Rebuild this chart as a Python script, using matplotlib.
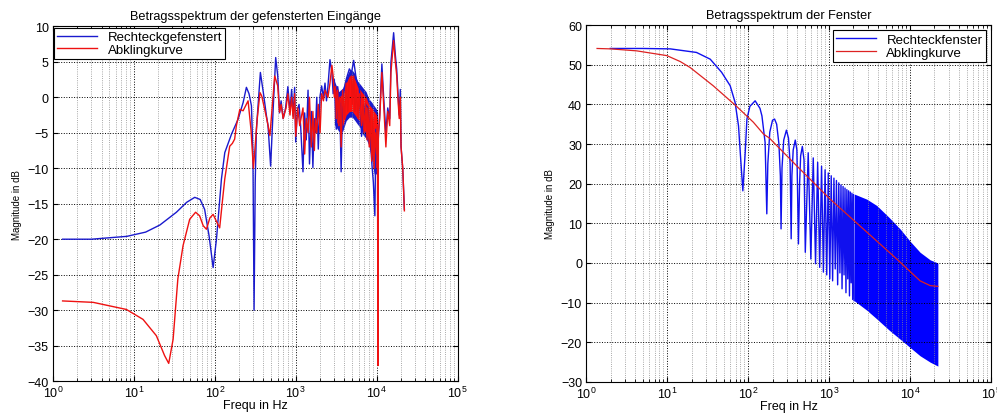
import matplotlib
matplotlib.use("Agg")
import matplotlib.pyplot as plt
from matplotlib.ticker import LogLocator, NullFormatter

plt.rcParams['font.family'] = ['Liberation Sans', 'DejaVu Sans']

# left panel: windowed input spectra
rect_f = [1.32, 3, 8.2, 14, 21, 33.6, 45, 56.6, 66, 75,
          85, 95.5, 105, 121, 133, 161, 194, 224, 246, 265,
          284, 296, 306, 316, 327, 366, 400, 435, 455, 490,
          530, 566, 600, 631, 660, 700, 750, 800, 850, 890,
          930, 970, 1000, 1050, 1100, 1150, 1230, 1290, 1350, 1420,
          1480, 1560, 1630, 1700, 1750, 1820, 1900, 2000, 2090, 2200,
          2300, 2400, 2500, 2650, 2800, 2900, 3000, 3170, 3300, 3500,
          3640, 3800, 4200, 4600, 4900, 5200, 5600, 6100, 6500, 6820,
          7300, 7800, 8300, 8700, 9100, 9500, 9800, 10200, 10900, 11600,
          12200, 13000, 13700, 14500, 15000, 16200, 17000, 17700, 18500, 19000,
          19600, 20000, 21000, 22000]
rect_db = [-20, -20, -19.6, -19, -18, -16.2, -14.8, -14.1, -14.4, -15.8,
           -19.5, -24, -20, -11.5, -7.8, -5.2, -3.1, -0.75, 1.4, 0.5,
           -1.2, -7.8, -30, -12, -4.5, 3.5, 0.5, -2.6, -4.0, -9.7,
           -1, 5.6, 3, -2.2, -0.5, -3, -1.5, 1.5, -2, 1.1,
           -2.6, 1.4, -6.3, -1.7, -1, -4, -10.5, -2.2, -6, 1,
           -9.4, -2, -9.9, -3, -5, 0, -7.3, 0.2, 1.6, 0,
           2, -0.5, 1.5, 5.3, 3.5, 0.5, 2.5, -4.5, 1.5, -1,
           -10.5, 0, 2.5, 4, 3.5, 5.2, 2.5, 1.5, -5.5, -3.6,
           -1, -1.5, -5, -9.2, -12.0, -16.7, -4.5, -8, -2.6, 4.7,
           0, -5, -1.5, -3, 4.9, 9.1, 6, 3.9, -0.3, -2.5,
           1.1, -6.9, -10.1, -15.8]

decay_f = [1.32, 3.15, 8.1, 13, 19, 24, 27, 30.6, 35, 40.6,
           49, 58, 65, 72, 79, 87, 95.5, 105, 115, 126,
           133, 153, 165, 176, 185, 204, 224, 258, 280, 300,
           311, 335, 362, 380, 440, 480, 550, 600, 631, 660,
           700, 760, 800, 850, 890, 930, 970, 1000, 1060, 1120,
           1230, 1290, 1350, 1420, 1480, 1560, 1630, 1700, 1750, 1820,
           1900, 2000, 2090, 2200, 2300, 2500, 2650, 2800, 2900, 3000,
           3100, 3170, 3300, 3400, 3500, 3640, 3800, 4000, 4200, 4400,
           4600, 4900, 5000, 5200, 5400, 5600, 5900, 6100, 6500, 6820,
           7000, 7300, 7600, 7800, 8100, 8300, 8700, 9000, 9300, 9600,
           10000, 10200, 10400, 10500, 10900, 11600, 12200, 13000, 13700, 14500,
           15000, 16200, 17000, 17700, 18500, 19000, 19600, 20000, 21000, 22000]
decay_db = [-28.7, -28.9, -29.9, -31.3, -33.6, -36.4, -37.5, -34.1, -25.6, -20.9,
            -17.2, -16.2, -16.7, -18.1, -18.6, -17, -16.5, -17.5, -18.4, -14,
            -11.5, -6.9, -6.5, -5.9, -4.0, -1.7, -1.9, -0.5, -4.5, -10,
            -7.8, -3, 0.66, 0.2, -3.1, -5.4, 3.0, 1.6, -2.1, -1,
            -3, -1.5, 0.5, -2.5, 0, -3, 0.5, -5.5, -1.5, -4,
            -1.5, -8, -3, -5, 0, -7, -2, -7.5, -3, -5,
            -1, -5, 0.5, -0.5, 1, 0, 2, 4.5, 3, 0,
            1.5, -3, 1, -4, 0, -7, 1, -3, 2, -2,
            2.5, 3, -1, 3, -2, 1, -3, 0.5, -4, -1,
            -5, -1, -6, -1.5, -7, -2, -9, -3, -10, -5,
            -8, -4, -37.8, -5, -3, 3.5, -1, -7, -2, -4,
            3.5, 8, 5, 3, -1, -3, 0, -7, -10, -16]

# dense part between 3 and 10 kHz, drawn as its envelope
dense_f = [3000, 3400, 3800, 4200, 4600, 5000, 5400, 5800, 6300, 6800, 7400, 8000, 8700,
           9300, 10000, 10300]
red_hi = [1.5, 0, 0.5, 2, 3, 3, 2.5, 1.5, 1, 0.5, 0, -1, -1.5, -2, -2.5, -3]
red_lo = [-3, -4, -4, -2.5, -2, -2, -2.5, -3, -3.5, -4.5, -5, -6, -8, -10, -10, -8]
blue_hi = [2.3, 0.8, 1.3, 2.8, 3.8, 3.8, 3.3, 2.3, 1.8, 1.3, 0.8, -0.2, -0.7, -1.2, -1.7,
           -2.2]
blue_lo = [-3.8, -4.8, -4.8, -3.3, -2.8, -2.8, -3.3, -3.8, -4.3, -5.3, -5.8, -6.8, -8.8,
           -10.8, -10.8, -8.8]

# right panel: window spectra
win_f = [1.98, 5, 10.9, 23, 34, 47, 60, 69, 76, 80.9, 86, 92, 96.6, 105, 122, 140, 148,
         162, 170, 175, 185, 200, 212, 225, 240, 250, 255, 262, 275, 297, 315, 330, 340,
         347, 360, 382, 400, 418, 432, 445, 467, 490, 508, 552, 595, 637, 680, 722, 765,
         807, 850, 892, 935, 977, 1020, 1062, 1105, 1147, 1190, 1232, 1275, 1317, 1360,
         1402, 1445, 1487, 1530, 1572, 1615, 1657, 1700, 1742, 1785, 1827, 1870, 1912,
         1955, 1997, 2040]
win_db = [54.1, 54.1, 54, 53.1, 51.4, 48.1, 44.7, 40.5, 34.6, 26.2, 18.2, 27.9, 36.3,
          39.5, 40.9, 39, 37.1, 30.4, 12.4, 25, 33, 36, 36.3, 35, 30, 22, 8.6, 24, 31,
          33.5, 31.5, 25, 6.1, 22, 28.5, 31, 28.5, 4.8, 20, 27, 29.4, 26, 2.7, 27.8, 1.0,
          26.5, -0.2, 25.4, -1.1, 24.4, -2.3, 23.5, -3.0, 22.7, -4.0, 22.0, -4.5, 21.4,
          -1.5, 20.8, -5.5, 20.2, -2.5, 19.7, -6.5, 19.3, -3, 18.9, -7.5, 18.5, -4,
          18.2, -8.3, 17.9, -5, 17.6, -9.2, 17.3, -9.5]

band_f = [2040, 2920, 3880, 5500, 7530, 10000, 13300, 17700, 22050]
band_hi = [17.4, 16.1, 14.5, 11.5, 8.6, 5.5, 2.7, 0.8, 0.0]
band_lo = [-9.5, -11.9, -14.1, -16.9, -19.2, -21.3, -23.4, -25.0, -26.0]

curve_f = [1.36, 2, 4.2, 9.9, 14.5, 19.2, 37, 72, 116, 155, 183, 398, 1030, 2640, 6850,
           13300, 17700, 22050]
curve_db = [54.1, 54.0, 53.5, 52.3, 50.8, 49.3, 44.7, 39.5, 35.5, 32.5, 31.5, 24.5, 16.1,
            8.6, 1.0, -4.5, -5.7, -5.9]


def style_axes(ax, ylim, yticks, xlabel, title):
    ax.set_xscale('log')
    ax.set_xlim(1, 1e5)
    ax.set_ylim(*ylim)
    ax.set_yticks(yticks)
    ax.xaxis.set_major_locator(LogLocator(base=10, numticks=10))
    ax.xaxis.set_minor_locator(LogLocator(base=10, subs=range(2, 10), numticks=100))
    ax.xaxis.set_minor_formatter(NullFormatter())
    ax.grid(True, which='major', linestyle=':', color='black', linewidth=0.7)
    ax.grid(True, which='minor', axis='x', linestyle=':', color='0.55', linewidth=0.6)
    ax.tick_params(direction='in', top=True, right=True, labelsize=9, pad=3)
    ax.tick_params(which='minor', direction='in', top=True, right=True)
    ax.set_xlabel(xlabel, fontsize=9, labelpad=-1)
    ax.set_ylabel('Magnitude in dB', fontsize=7)
    ax.set_title(title, fontsize=9.2, pad=5)


fig = plt.figure(figsize=(9.97, 4.14), dpi=100)
ax1 = fig.add_axes([0.053, 0.077, 0.406, 0.857])
ax2 = fig.add_axes([0.588, 0.075, 0.406, 0.862])

ax1.fill_between(dense_f, blue_lo, blue_hi, color='#1a1acd', linewidth=0)
ax1.plot(rect_f, rect_db, color='#1a1acd', linewidth=1.0, label='Rechteckgefenstert')
ax1.fill_between(dense_f, red_lo, red_hi, color='#ff1010', linewidth=0)
ax1.plot(decay_f, decay_db, color='#ee1111', linewidth=1.0, label='Abklingkurve')
style_axes(ax1, (-40, 10), range(-40, 11, 5), 'Frequ in Hz',
           'Betragsspektrum der gefensterten Eingänge')
leg1 = ax1.legend(loc='upper left', fontsize=9.5, fancybox=False, edgecolor='black',
                  framealpha=1, borderaxespad=0.1, handlelength=3.0, borderpad=0.25,
                  labelspacing=0.05)
leg1.get_frame().set_linewidth(0.8)

ax2.plot(win_f, win_db, color='#1010ee', linewidth=1.0, label='Rechteckfenster')
ax2.fill_between(band_f, band_lo, band_hi, color='#0000ff', linewidth=0)
ax2.plot(curve_f, curve_db, color='#dd2222', linewidth=0.9, label='Abklingkurve')
style_axes(ax2, (-30, 60), range(-30, 61, 10), 'Freq in Hz', 'Betragsspektrum der Fenster')
leg2 = ax2.legend(loc='upper right', fontsize=9.5, fancybox=False, edgecolor='black',
                  framealpha=1, borderaxespad=0.4, handlelength=3.0, borderpad=0.25,
                  labelspacing=0.05)
leg2.get_frame().set_linewidth(0.8)

fig.savefig('out.png', dpi=100)
